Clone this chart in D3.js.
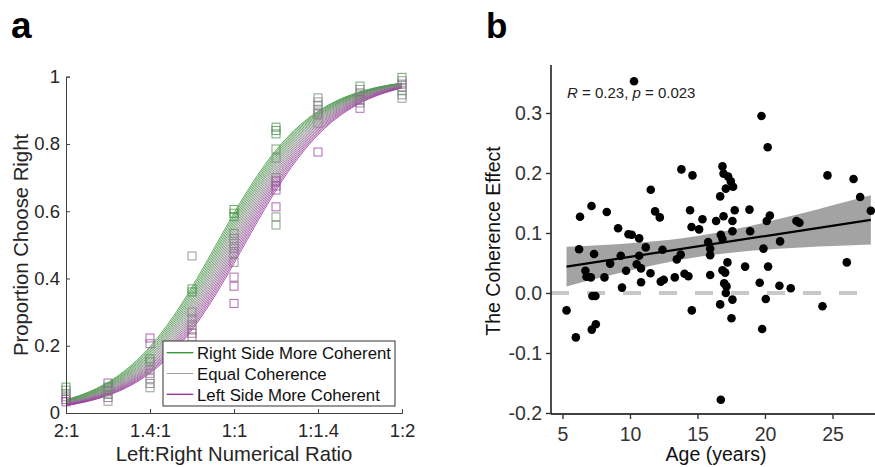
<!DOCTYPE html>
<html>
<head>
<meta charset="utf-8">
<script src="https://cdn.jsdelivr.net/npm/d3@7"></script>
<style>
  body { margin: 0; background: #fff; }
  svg { display: block; font-family: "Liberation Sans", Arial, sans-serif; }
</style>
</head>
<body>
<svg id="chart" width="875" height="467"></svg>
<script>
// ---- panel a data ----
const ratioTicks = [-1, -0.5, 0, 0.5, 1];
const ratioLabels = ["2:1", "1.4:1", "1:1", "1:1.4", "1:2"];
const propTicks = [0, 0.2, 0.4, 0.6, 0.8, 1];
const ratioLevels = [-1, -0.75, -0.5, -0.25, 0, 0.25, 0.5, 0.75, 1];

// observed proportion choose right, one list per ratio level
const propObserved = [
  [0.077, 0.068, 0.058, 0.048, 0.040, 0.033],
  [0.089, 0.077, 0.064, 0.055, 0.046, 0.035],
  [0.223, 0.206, 0.161, 0.152, 0.130, 0.118, 0.102, 0.088, 0.075],
  [0.467, 0.369, 0.360, 0.300, 0.280, 0.262, 0.247, 0.237, 0.226],
  [0.605, 0.594, 0.584, 0.534, 0.519, 0.504, 0.490, 0.475, 0.448, 0.404, 0.377, 0.326],
  [0.850, 0.840, 0.830, 0.785, 0.758, 0.700, 0.690, 0.675, 0.663, 0.613, 0.583, 0.559],
  [0.937, 0.925, 0.915, 0.903, 0.895, 0.889, 0.862, 0.776],
  [0.972, 0.962, 0.952, 0.942, 0.932, 0.922, 0.906],
  [0.998, 0.988, 0.978, 0.968, 0.958, 0.946, 0.936]
];
// coherence shade of each square (0 = right more coherent, 0.5 = equal, 1 = left more coherent)
const shadeObserved = [
  [0.1, 0.3, 0.5, 0.6, 0.8, 0.9],
  [0.9, 0.2, 0.5, 0.4, 0.7, 0.5],
  [0.95, 0.8, 0.15, 0.3, 0.5, 0.6, 0.5, 0.7, 0.45],
  [0.5, 0.1, 0.15, 0.45, 0.5, 0.55, 0.6, 0.7, 0.8],
  [0.05, 0.1, 0.15, 0.45, 0.5, 0.5, 0.55, 0.5, 0.6, 0.85, 0.9, 0.95],
  [0.1, 0.15, 0.2, 0.2, 0.45, 0.5, 0.85, 0.9, 0.85, 0.95, 0.4, 0.35],
  [0.3, 0.5, 0.6, 0.4, 0.5, 0.7, 0.5, 0.95],
  [0.2, 0.5, 0.6, 0.4, 0.7, 0.5, 0.85],
  [0.15, 0.5, 0.85, 0.6, 0.4, 0.3, 0.5]
];

// fitted logistic curves (one per coherence level)
const fitSlope = 3.57;
const fitIntercepts = [0.38, 0.347, 0.313, 0.28, 0.247, 0.213, 0.18, 0.147, 0.113, 0.08,
                       0.047, 0.013, -0.02, -0.053, -0.087, -0.12, -0.153, -0.187, -0.22];
const legendLabels = ["Right Side More Coherent", "Equal Coherence", "Left Side More Coherent"];

// ---- panel b data ----
const ageTicks = [5, 10, 15, 20, 25];
const effectTicks = [-0.2, -0.1, 0, 0.1, 0.2, 0.3];
const ages = [10.3, 19.74, 20.2, 13.81, 14.63, 16.85, 16.93, 17.27, 17.1, 17.47, 17.64, 16.68,
  24.63, 26.56, 27.05, 27.84, 11.54, 7.15, 6.3, 8.28, 11.86, 12.21, 14.45, 15.37, 16.38,
  16.93, 17.76, 17.59, 18.85, 20.36, 20.13, 22.33, 22.55, 9.12, 9.89, 10.13, 10.68, 14.56,
  15.12, 17.59, 18.9, 16.73, 16.85, 21.12, 15.79, 15.94, 15.94, 11.17, 12.41, 6.23, 7.34,
  9.32, 10.68, 13.76, 13.47, 19.89, 26.06, 8.53, 10.5, 10.82, 9.71, 6.7, 6.78, 7.1, 8.11,
  11.52, 14.04, 14.33, 13.32, 12.5, 12.28, 10.82, 9.41, 15.94, 16.85, 17.22, 17.05, 16.98,
  17.15, 17.1, 18.53, 19.61, 20.23, 21.07, 21.91, 20.06, 17.59, 16.68, 14.58, 24.26, 17.52,
  19.79, 5.3, 5.99, 7.17, 7.47, 7.22, 7.44, 16.73];
const effects = [0.353, 0.295, 0.243, 0.206, 0.196, 0.211, 0.199, 0.194, 0.174, 0.186, 0.177, 0.161,
  0.196, 0.19, 0.16, 0.137, 0.172, 0.145, 0.127, 0.135, 0.136, 0.126, 0.138, 0.123, 0.12,
  0.128, 0.138, 0.12, 0.139, 0.129, 0.12, 0.12, 0.117, 0.108, 0.098, 0.097, 0.091, 0.11,
  0.106, 0.103, 0.103, 0.097, 0.09, 0.086, 0.085, 0.074, 0.063, 0.076, 0.072, 0.073, 0.065,
  0.062, 0.062, 0.064, 0.056, 0.074, 0.051, 0.049, 0.048, 0.041, 0.037, 0.037, 0.027, 0.026, 0.026,
  0.033, 0.032, 0.028, 0.026, 0.022, 0.019, 0.018, 0.009, 0.03, 0.038, 0.051, 0.034, 0.016,
  0.011, 0.0, 0.044, 0.017, 0.044, 0.012, 0.008, -0.01, -0.011, -0.019, -0.029, -0.022, -0.042,
  -0.06, -0.029, -0.074, -0.061, -0.052, -0.005, -0.005, -0.178];

// regression line and confidence band
const lineAges = [5.3, 27.84];
const lineEffects = [0.044, 0.122];
const bandAges = [5.3, 8, 10, 12, 14, 16, 18, 20, 22, 24, 26, 27.84];
const bandLow = [0.011, 0.0265, 0.0376, 0.0477, 0.0564, 0.0633, 0.0684, 0.0722, 0.075, 0.0773, 0.0793, 0.081];
const bandHigh = [0.077, 0.0801, 0.083, 0.0867, 0.0918, 0.0987, 0.1074, 0.1176, 0.1286, 0.1401, 0.1519, 0.163];

const svg = d3.select('#chart');

// ===================== panel a =====================
const xa = d3.scaleLinear().domain([-1, 1]).range([66, 402]);
const ya = d3.scaleLinear().domain([0, 1]).range([413, 76.7]);
const shade = d3.scaleLinear().domain([0, 0.5, 1]).range(['#389a38', '#858585', '#9c37a0']);

const ga = svg.append('g');

// fitted curves
const curveXs = d3.range(-1, 1.0001, 0.02);
fitIntercepts.forEach((b, i) => {
  const line = d3.line()
    .x(d => xa(d))
    .y(d => ya(1 / (1 + Math.exp(-(fitSlope * d + b)))))
    .curve(d3.curveCatmullRom);
  ga.append('path')
    .attr('d', line(curveXs))
    .attr('fill', 'none')
    .attr('stroke', shade(i / (fitIntercepts.length - 1)))
    .attr('stroke-width', 0.85);
});

// observed squares
ratioLevels.forEach((lv, i) => {
  propObserved[i].forEach((p, j) => {
    ga.append('rect')
      .attr('x', xa(lv) - 4)
      .attr('y', ya(p) - 4)
      .attr('width', 8)
      .attr('height', 8)
      .attr('fill', 'none')
      .attr('stroke', shade(shadeObserved[i][j]))
      .attr('stroke-opacity', 0.8)
      .attr('stroke-width', 1);
  });
});

// axes (MATLAB style, inward ticks)
const axA = ga.append('g').attr('transform', 'translate(66,0)')
  .call(d3.axisLeft(ya).tickValues(propTicks).tickSize(-4).tickPadding(6).tickFormat(d3.format('~g')));
const axB = ga.append('g').attr('transform', 'translate(0,413)')
  .call(d3.axisBottom(xa).tickValues(ratioTicks).tickSize(-4).tickPadding(11)
    .tickFormat((d, i) => ratioLabels[i]));
[axA, axB].forEach(ax => {
  ax.select('.domain').attr('stroke', '#404040').attr('stroke-width', 1);
  ax.selectAll('.tick line').attr('stroke', '#404040');
  ax.selectAll('text').attr('fill', '#262626').style('font-size', '18.5px');
});

ga.append('text')
  .attr('x', 234).attr('y', 461)
  .attr('text-anchor', 'middle')
  .attr('fill', '#262626')
  .style('font-size', '20.3px')
  .text('Left:Right Numerical Ratio');
ga.append('text')
  .attr('transform', 'translate(28,245) rotate(-90)')
  .attr('text-anchor', 'middle')
  .attr('fill', '#262626')
  .style('font-size', '20.3px')
  .text('Proportion Choose Right');

// legend
const leg = ga.append('g');
leg.append('rect')
  .attr('x', 163).attr('y', 341).attr('width', 232).attr('height', 65)
  .attr('fill', '#fff').attr('stroke', '#333').attr('stroke-width', 1);
legendLabels.forEach((lab, i) => {
  const yy = 352.7 + i * 20.8;
  leg.append('line')
    .attr('x1', 166.7).attr('x2', 193.3).attr('y1', yy).attr('y2', yy)
    .attr('stroke', shade(i / 2))
    .attr('stroke-width', i === 1 ? 0.8 : 1.4);
  leg.append('text')
    .attr('x', 197).attr('y', yy + 6.2)
    .attr('fill', '#111')
    .style('font-size', '16.8px')
    .text(lab);
});

svg.append('text')
  .attr('x', 11).attr('y', 38)
  .style('font-size', '37px').style('font-weight', 'bold')
  .text('a');

// ===================== panel b =====================
const xb = d3.scaleLinear().domain([4.15, 29.55]).range([551, 551 + 25.4 * 13.5]);
const yb = d3.scaleLinear().domain([-0.2, 0.3]).range([413, 113]);
const gb = svg.append('g');

// zero reference line
gb.append('line')
  .attr('x1', xb(4.15)).attr('x2', xb(29.55))
  .attr('y1', yb(0)).attr('y2', yb(0))
  .attr('stroke', '#c8c8c8').attr('stroke-width', 4)
  .attr('stroke-dasharray', '18 18');

// confidence band
const bandArea = d3.area()
  .x((d, i) => xb(bandAges[i]))
  .y0((d, i) => yb(bandLow[i]))
  .y1((d, i) => yb(bandHigh[i]))
  .curve(d3.curveMonotoneX);
gb.append('path')
  .attr('d', bandArea(bandAges))
  .attr('fill', '#a3a3a3');

gb.append('line')
  .attr('x1', xb(lineAges[0])).attr('x2', xb(lineAges[1]))
  .attr('y1', yb(lineEffects[0])).attr('y2', yb(lineEffects[1]))
  .attr('stroke', '#000').attr('stroke-width', 2.2);

// points
gb.selectAll('circle')
  .data(ages)
  .enter().append('circle')
  .attr('cx', d => xb(d))
  .attr('cy', (d, i) => yb(effects[i]))
  .attr('r', 4.3)
  .attr('fill', '#000');

// axes
const bxAxis = gb.append('g').attr('transform', 'translate(0,414)')
  .call(d3.axisBottom(xb).tickValues(ageTicks).tickSize(5).tickPadding(8).tickFormat(d3.format('d')));
const byAxis = gb.append('g').attr('transform', 'translate(551,0)')
  .call(d3.axisLeft(yb).tickValues(effectTicks).tickSize(5).tickPadding(4).tickFormat(d => d.toFixed(1)));
[bxAxis, byAxis].forEach(ax => {
  ax.select('.domain').attr('stroke', '#000').attr('stroke-width', 1.4);
  ax.selectAll('.tick line').attr('stroke', '#333').attr('stroke-width', 1.4);
  ax.selectAll('text').attr('fill', '#333').style('font-size', '19.5px');
});
byAxis.select('.domain').attr('d', 'M0,65V414');
bxAxis.select('.domain').attr('d', 'M551,0H875');

gb.append('text')
  .attr('x', 716).attr('y', 461)
  .attr('text-anchor', 'middle')
  .attr('fill', '#111')
  .style('font-size', '19.5px')
  .text('Age (years)');
gb.append('text')
  .attr('transform', 'translate(500,241) rotate(-90)')
  .attr('text-anchor', 'middle')
  .attr('fill', '#111')
  .style('font-size', '19.5px')
  .text('The Coherence Effect');

const stat = gb.append('text')
  .attr('x', 567).attr('y', 98)
  .attr('fill', '#222')
  .style('font-size', '15px');
stat.append('tspan').style('font-style', 'italic').text('R');
stat.append('tspan').text(' = 0.23, ');
stat.append('tspan').style('font-style', 'italic').text('p');
stat.append('tspan').text(' = 0.023');

svg.append('text')
  .attr('x', 486).attr('y', 38)
  .style('font-size', '35px').style('font-weight', 'bold')
  .text('b');
</script>
</body>
</html>
